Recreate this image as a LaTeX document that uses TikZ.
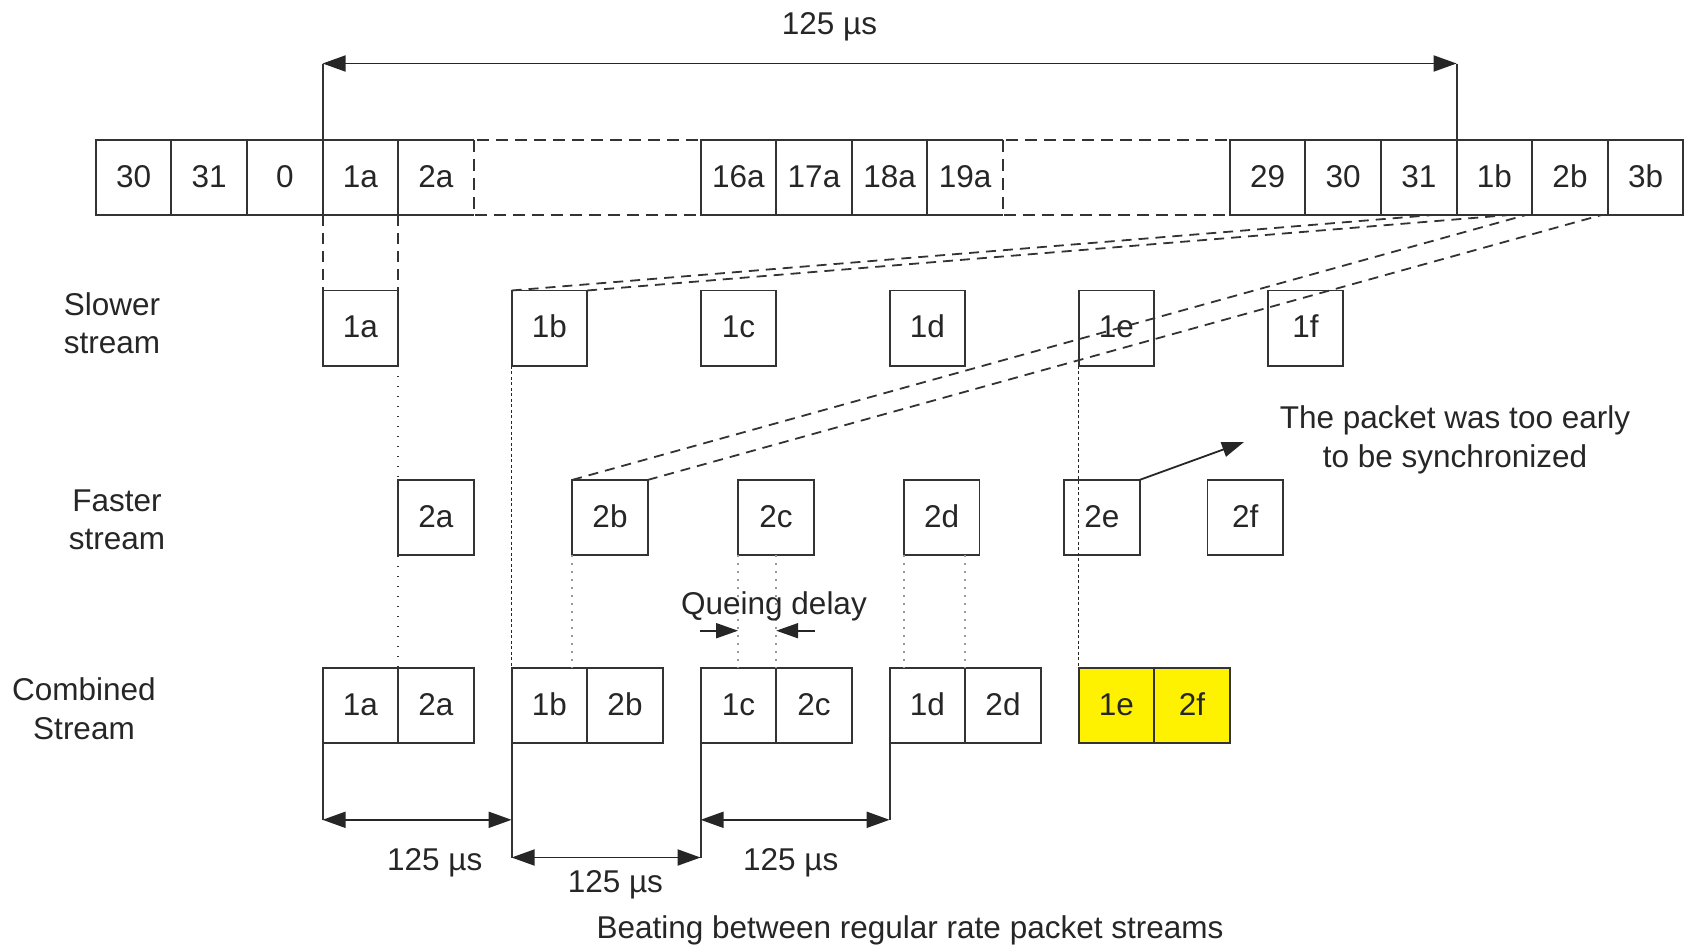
\documentclass[tikz,border=0pt]{standalone}
\usepackage{fontspec}
\setmainfont{Liberation Sans}
\usetikzlibrary{arrows.meta,calc}
\begin{document}
\begin{tikzpicture}[x=1pt,y=-1pt,
  every node/.style={font=\fontsize{31.5}{38.5}\selectfont, text=black!85},
  cell/.style={draw=black!80, line width=1.9pt, minimum width=75.6pt, minimum height=75.3pt, inner sep=0pt, outer sep=0pt, anchor=north west, text height=23pt, text depth=4pt},
  nob/.style={cell, draw=none},
  ybox/.style={cell, fill=yellow},
  lbl/.style={align=center},
  ln/.style={draw=black!80, line width=1.9pt},
  dshh/.style={draw=black!80, line width=1.9pt, dash pattern=on 12pt off 7pt},
  dshv/.style={draw=black!80, line width=1.9pt, dash pattern=on 11pt off 7pt},
  dshd/.style={draw=black!80, line width=1.8pt, dash pattern=on 10pt off 7pt},
  dotk/.style={draw=black!80, line width=1.6pt, dash pattern=on 1.6pt off 8.4pt},
  dotd/.style={draw=black!85, line width=1.4pt, dash pattern=on 3pt off 2.5pt},
  dotg/.style={draw=black!40, line width=1.7pt, dash pattern=on 2pt off 6pt},
  dim/.style={draw=black!85, line width=1.9pt, {Triangle[length=23pt,width=16pt]}-{Triangle[length=23pt,width=16pt]}},
  arr/.style={draw=black!85, line width=1.8pt, -{Triangle[length=22pt,width=15pt]}}]
\useasboundingbox (0,0) rectangle (1687,945);

% ---------- top row ----------
\node[cell] (t30a) at (95.8,139.9) {30};
\node[cell] (t31a) at (171.4,139.9) {31};
\node[cell] (t0)   at (247.0,139.9) {0};
\node[cell] (t1a)  at (322.6,139.9) {1a};
\node[nob]  (t2a)  at (398.2,139.9) {2a};
\node[cell] (t16a) at (700.6,139.9) {16a};
\node[cell] (t17a) at (776.2,139.9) {17a};
\node[cell] (t18a) at (851.8,139.9) {18a};
\node[nob]  (t19a) at (927.4,139.9) {19a};
\node[cell] (t29)  at (1229.8,139.9) {29};
\node[cell] (t30b) at (1305.4,139.9) {30};
\node[cell] (t31b) at (1381.0,139.9) {31};
\node[cell] (t1b)  at (1456.6,139.9) {1b};
\node[cell] (t2b)  at (1532.2,139.9) {2b};
\node[cell] (t3b)  at (1607.8,139.9) {3b};
\draw[ln] (t2a.north east) -- (t2a.north west) -- (t2a.south west) -- (t2a.south east);
\draw[ln] (t19a.north east) -- (t19a.north west) -- (t19a.south west) -- (t19a.south east);
\draw[dshh] (t2a.north east) rectangle (t16a.south west);
\draw[dshh] (t19a.north east) rectangle (t29.south west);

% top dimension
\coordinate (aL) at (322.6,63.5);
\coordinate (aR) at (1456.6,63.5);
\draw[ln] (t1a.north west) -- (aL);
\draw[ln] (t1b.north west) -- (aR);
\draw[dim] (aL) -- (aR);
\node (top125) at (829.5,26.7) {125 µs};

% ---------- slower stream ----------
\node[lbl] (slow) at (112,323) {Slower\\stream};
\node[cell] (s1a) at (322.6,290.5) {1a};
\node[cell] (s1b) at (511.6,290.5) {1b};
\node[cell] (s1c) at (700.6,290.5) {1c};
\node[cell] (s1d) at (889.6,290.5) {1d};
\node[cell] (s1e) at (1078.6,290.5) {1e};
\node[cell] (s1f) at (1267.6,290.5) {1f};

% ---------- faster stream ----------
\node[lbl] (fast) at (117,520) {Faster\\stream};
\node[cell] (f2a) at (398.1,479.9) {2a};
\node[cell] (f2b) at (572.2,479.9) {2b};
\node[cell] (f2c) at (738.1,479.9) {2c};
\node[cell] (f2d) at (903.9,479.9) {2d};
\node[cell] (f2e) at (1064.0,479.9) {2e};
\node[cell] (f2f) at (1207.5,479.9) {2f};

% ---------- combined stream ----------
\node[lbl] (comb) at (84,708.5) {Combined\\Stream};
\node[cell] (c1a) at (322.6,668.1) {1a};
\node[cell] (c2a) at (398.2,668.1) {2a};
\node[cell] (c1b) at (511.6,668.1) {1b};
\node[cell] (c2b) at (587.2,668.1) {2b};
\node[cell] (c1c) at (700.6,668.1) {1c};
\node[cell] (c2c) at (776.2,668.1) {2c};
\node[cell] (c1d) at (889.6,668.1) {1d};
\node[cell] (c2d) at (965.2,668.1) {2d};
\node[ybox] (c1e) at (1078.6,668.1) {1e};
\node[ybox] (c2f) at (1154.2,668.1) {2f};

% ---------- mapping lines ----------
\draw[dshv] (t1a.south west) -- (s1a.north west);
\draw[dshv] (t1a.south east) -- (s1a.north east);
\draw[dshd] (s1b.north west) -- ($(t1b.south west)+(-26,0)$);
\draw[dshd] (s1b.north east) -- ($(t1b.south east)+(-25,0)$);
\draw[dshd] (f2b.north west) -- ($(t2b.south west)+(-7,0)$);
\draw[dshd] (f2b.north east) -- ($(t2b.south east)+(-7,0)$);

% ---------- vertical dotted guides ----------
\draw[dotk] (s1a.south east) -- (c1a.north east);
\draw[dotd] (s1b.south west) -- (c1b.north west);
\draw[dotd] (s1e.south west) -- (c1e.north west);
\draw[dotg] (f2b.south west) -- (f2b.south west |- c1b.north);
\draw[dotg] (f2c.south west) -- (f2c.south west |- c1c.north);
\draw[dotg] (c1c.north east |- f2c.south) -- (c1c.north east);
\draw[dotg] (f2d.south west) -- (f2d.south west |- c1d.north);
\draw[dotg] (c1d.north east |- f2d.south) -- (c1d.north east);

% queuing delay
\node (qd) at (774,606) {Queing delay};
\coordinate (q1) at (700,630.7);
\coordinate (q2) at (815,630.7);
\draw[arr] (q1) -- (f2c.south west |- q1);
\draw[arr] (q2) -- (c1c.north east |- q2);

% annotation
\coordinate (noteTip) at (1244,442);
\draw[arr] (f2e.north east) -- (noteTip);
\node[lbl] (note) at (1455,440) {The packet was too early\\to be synchronized};

% ---------- bottom dimensions ----------
\coordinate (ylow) at (0,819.8);
\coordinate (yhigh) at (0,857.5);
\draw[ln] (c1a.south west) -- (c1a.south west |- ylow);
\draw[ln] (c1b.south west) -- (c1b.south west |- yhigh);
\draw[ln] (c1c.south west) -- (c1c.south west |- yhigh);
\draw[ln] (c1d.south west) -- (c1d.south west |- ylow);
\draw[dim] (c1a.south west |- ylow) -- (c1b.south west |- ylow);
\draw[dim] (c1b.south west |- yhigh) -- (c1c.south west |- yhigh);
\draw[dim] (c1c.south west |- ylow) -- (c1d.south west |- ylow);
\node (d1) at (434.7,862.6) {125 µs};
\node (d2) at (615.4,885.2) {125 µs};
\node (d3) at (790.8,862.6) {125 µs};

\node (cap) at (910,930) {Beating between regular rate packet streams};
\end{tikzpicture}
\end{document}
